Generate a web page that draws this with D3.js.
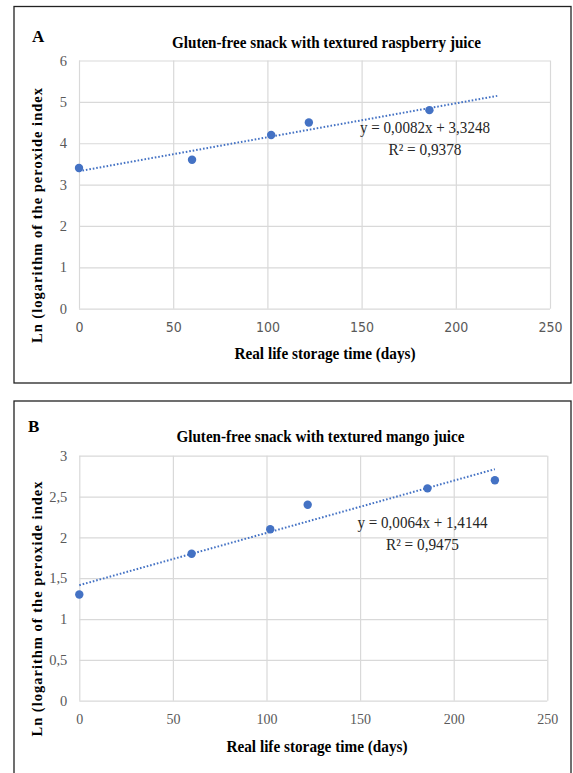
<!DOCTYPE html>
<html>
<head>
<meta charset="utf-8">
<script src="https://cdn.jsdelivr.net/npm/d3@7"></script>
<style>
    body { margin: 0; background: #fff; }
    svg { display: block; }
    .grid line { stroke: #d9d9d9; stroke-width: 1.2; }
    .grid .domain { display: none; }
</style>
</head>
<body>
<div id="chart"></div>
<script>
// data
const xTicks = [0, 50, 100, 150, 200, 250];

const daysA = [0, 60, 102, 122, 186];
const lnA = [3.4, 3.6, 4.2, 4.5, 4.8];
const yTicksA = [0, 1, 2, 3, 4, 5, 6];
const trendA = [0.0082, 3.3248]; // slope, intercept
const r2A = '0,9378';

const daysB = [0, 60, 102, 122, 186, 222];
const lnB = [1.3, 1.8, 2.1, 2.4, 2.6, 2.7];
const yTicksB = [0, 0.5, 1, 1.5, 2, 2.5, 3];
const trendB = [0.0064, 1.4144];
const r2B = '0,9475';

const trendRange = [0, 222];

const commaFmt = d => String(d).replace('.', ',');

const svg = d3.select('#chart')
    .append('svg')
    .attr('width', 573)
    .attr('height', 773);

class TrendPanel {
    constructor(_config, _days, _values) {
        this.config = _config;
        this.days = _days;
        this.values = _values;
        this.initVis();
    }

    initVis() {
        let vis = this;
        let c = vis.config;

        // outer frame
        svg.append('rect')
            .attr('x', c.frame[0]).attr('y', c.frame[1])
            .attr('width', c.frame[2]).attr('height', c.frame[3])
            .attr('fill', '#fff')
            .attr('stroke', '#222')
            .attr('stroke-width', 1.3);

        vis.chart = svg.append('g')
            .attr('transform', `translate(${c.left}, ${c.top})`);

        vis.xScale = d3.scaleLinear().domain([0, 250]).range([0, c.width]);
        vis.yScale = d3.scaleLinear().domain(c.yDomain).range([c.height, 0]);

        // gridlines + tick labels
        vis.yAxisG = vis.chart.append('g')
            .attr('class', 'grid')
            .call(d3.axisLeft(vis.yScale).tickValues(c.yTicks).tickSize(-c.width).tickPadding(12).tickFormat(commaFmt));

        vis.xAxisG = vis.chart.append('g')
            .attr('class', 'grid')
            .attr('transform', `translate(0,${c.height})`)
            .call(d3.axisBottom(vis.xScale).tickValues(xTicks).tickSize(-c.height).tickPadding(13).tickFormat(d3.format('d')));

        vis.yAxisG.selectAll('.tick text')
            .attr('fill', '#595959')
            .attr('font-family', '"Liberation Serif", "Times New Roman", serif')
            .attr('font-size', 14.5);

        vis.xAxisG.selectAll('.tick text')
            .attr('fill', '#595959')
            .attr('font-family', c.xTickFont)
            .attr('font-size', 14);

        // panel letter
        svg.append('text')
            .attr('x', c.letterPos[0]).attr('y', c.letterPos[1])
            .style('font-family', '"Liberation Serif", serif')
            .style('font-weight', 'bold')
            .style('font-size', '17px')
            .text(c.letter);

        // title
        svg.append('text')
            .attr('x', c.titlePos[0]).attr('y', c.titlePos[1])
            .attr('text-anchor', 'middle')
            .attr('textLength', c.titleLen)
            .attr('lengthAdjust', 'spacingAndGlyphs')
            .style('font-family', '"Liberation Serif", serif')
            .style('font-weight', 'bold')
            .style('font-size', '16px')
            .text(c.title);

        // axis titles
        svg.append('text')
            .attr('transform', `translate(${c.yTitlePos[0]}, ${c.yTitlePos[1]}) rotate(-90)`)
            .attr('text-anchor', 'middle')
            .attr('textLength', 255)
            .attr('lengthAdjust', 'spacing')
            .style('font-family', '"Liberation Serif", serif')
            .style('font-weight', 'bold')
            .style('font-size', '14.5px')
            .text('Ln (logarithm of the peroxide  index');

        svg.append('text')
            .attr('x', c.xTitlePos[0]).attr('y', c.xTitlePos[1])
            .attr('text-anchor', 'middle')
            .attr('textLength', 181)
            .attr('lengthAdjust', 'spacingAndGlyphs')
            .style('font-family', '"Liberation Serif", serif')
            .style('font-weight', 'bold')
            .style('font-size', '16px')
            .text('Real life  storage time (days)');

        vis.updateVis();
    }

    updateVis() {
        let vis = this;
        let c = vis.config;
        let points = vis.days.map((d, i) => ({ day: d, ln: vis.values[i] }));
        let trendPts = trendRange.map(d => ({ day: d, ln: c.trend[0] * d + c.trend[1] }));

        // trendline (dotted)
        vis.chart.append('path')
            .datum(trendPts)
            .attr('fill', 'none')
            .attr('stroke', '#4472c4')
            .attr('stroke-width', 2)
            .attr('stroke-dasharray', '1.6,1.9')
            .attr('d', d3.line()
                .x(d => vis.xScale(d.day))
                .y(d => vis.yScale(d.ln))
            );

        vis.chart.selectAll('.dot')
            .data(points)
            .join('circle')
            .attr('class', 'dot')
            .attr('cx', d => vis.xScale(d.day))
            .attr('cy', d => vis.yScale(d.ln))
            .attr('r', 4.2)
            .attr('fill', '#4472c4');

        // equation label
        let eq = svg.append('text')
            .attr('text-anchor', 'middle')
            .style('font-family', '"Liberation Serif", serif')
            .style('font-size', '16.5px')
            .attr('fill', '#262626');
        eq.append('tspan')
            .attr('x', c.eqPos[0]).attr('y', c.eqPos[1])
            .attr('textLength', 130)
            .attr('lengthAdjust', 'spacingAndGlyphs')
            .text(`y = ${commaFmt(c.trend[0])}x + ${commaFmt(c.trend[1])}`);
        eq.append('tspan')
            .attr('x', c.eqPos[0]).attr('y', c.eqPos[1] + 22)
            .attr('textLength', 73)
            .attr('lengthAdjust', 'spacingAndGlyphs')
            .text(`R² = ${c.r2}`);
    }
}

new TrendPanel({
    frame: [14, 6.5, 557, 376.5],
    left: 79, top: 60.5, width: 471, height: 248.2,
    yDomain: [0, 6], yTicks: yTicksA,
    xTickFont: '"Liberation Sans Narrow", "DejaVu Sans Condensed", sans-serif',
    letter: 'A', letterPos: [32, 42],
    title: 'Gluten-free snack with textured raspberry juice', titlePos: [326.5, 47.5], titleLen: 309,
    yTitlePos: [42, 215.5],
    xTitlePos: [325, 358.5],
    trend: trendA, r2: r2A,
    eqPos: [425, 133]
}, daysA, lnA);

new TrendPanel({
    frame: [14, 401, 557, 376],
    left: 79.3, top: 455.7, width: 468, height: 245,
    yDomain: [0, 3], yTicks: yTicksB,
    xTickFont: '"Liberation Serif", serif',
    letter: 'B', letterPos: [28, 432],
    title: 'Gluten-free snack with textured mango juice', titlePos: [320.5, 442], titleLen: 288,
    yTitlePos: [42, 609],
    xTitlePos: [317, 752],
    trend: trendB, r2: r2B,
    eqPos: [422.5, 527.5]
}, daysB, lnB);
</script>
</body>
</html>
